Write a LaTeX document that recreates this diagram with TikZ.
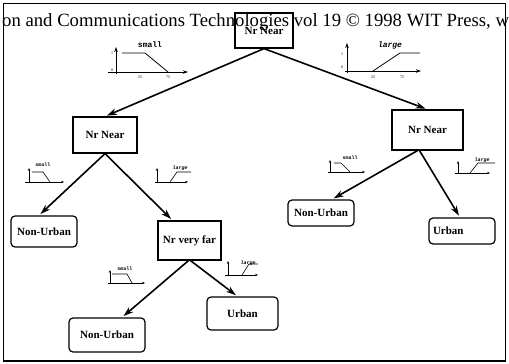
\documentclass[tikz,border=0pt]{standalone}
\usepackage{fontspec}
\setmainfont{Liberation Serif}
\newfontfamily\monofont{Liberation Mono}
\usetikzlibrary{arrows.meta}

\tikzset{
  decision/.style={draw, line width=1.2pt, inner sep=0pt,
    font=\fontsize{11}{13}\selectfont\bfseries},
  leaf/.style={draw, line width=1.2pt, rounded corners=4pt, inner sep=0pt,
    font=\fontsize{11}{13}\selectfont\bfseries},
  edge/.style={line width=1.6pt, -{Stealth[length=10pt,width=6.5pt]}, shorten >=2pt},
  axisbig/.style={line width=0.9pt, -{Stealth[length=5pt,width=3.5pt]}},
  axissmall/.style={line width=0.7pt, -{Stealth[length=3pt,width=2.4pt]}},
  mfcurve/.style={line width=0.8pt},
  biglabel/.style={font=\fontsize{8}{9}\monofont\bfseries, inner sep=0pt},
  smalllabel/.style={font=\fontsize{5}{6}\monofont\bfseries, inner sep=0pt},
  tick/.style={font=\fontsize{4}{5}\selectfont, inner sep=0pt},
}

\begin{document}
\begin{tikzpicture}[x=1pt, y=-1pt]
\useasboundingbox (0,0) rectangle (509,364);

% running head of the page
\node[anchor=base west, inner sep=0pt, font=\fontsize{18.7}{21}\selectfont] (head) at (2,26)
  {on and Communications Technologies vol 19 \textcopyright{} 1998 WIT Press, w};

% frame
\draw[line width=1pt] (3,3) rectangle (505,361);
\draw[line width=1.6pt] (3,361) -- (505,361);

% tree nodes
\node[decision, minimum width=58pt, minimum height=35pt] (root) at (264,30.5) {Nr Near};
\node[decision, minimum width=64pt, minimum height=36pt] (n1) at (105,135) {Nr Near};
\node[decision, minimum width=71pt, minimum height=40pt] (n2) at (427.5,130) {Nr Near};
\node[decision, minimum width=63pt, minimum height=39pt] (n3) at (189.5,240.5) {Nr very far};
\node[leaf, minimum width=66pt, minimum height=31pt] (l1) at (44,231.5) {Non-Urban};
\node[leaf, minimum width=66pt, minimum height=26pt] (l2) at (321,213) {Non-Urban};
\node[leaf, minimum height=26pt, text width=58pt, inner xsep=4pt, align=left] (l3) at (462,231) {Urban};
\node[leaf, minimum width=76pt, minimum height=34pt] (l4) at (107,335) {Non-Urban};
\node[leaf, minimum width=71pt, minimum height=33pt] (l5) at (242.5,313.5) {Urban};

% connectors
\draw[edge] (root.south) -- (n1.north);
\draw[edge] (root.south) -- (n2.north);
\draw[edge] (n1.south) -- ([xshift=-5pt]l1.north);
\draw[edge] (n1.south) -- ([xshift=-17pt]n3.north);
\draw[edge] ([xshift=-10pt]n2.south) -- ([xshift=11pt]l2.north);
\draw[edge] ([xshift=-8pt]n2.south) -- ([xshift=-2pt]l3.north);
\draw[edge] ([xshift=-1pt]n3.south) -- ([xshift=15pt]l4.north);
\draw[edge] ([xshift=1pt]n3.south) -- ([xshift=-5pt]l5.north);

% membership function "small", root branch
\begin{scope}[shift={(116,72)}]
  \draw[axisbig] (0,2) -- (0,-25);
  \draw[axisbig] (-8,0) -- (72,0);
  \draw[mfcurve] (6,-19) -- (29,-19) -- (52,0);
  \node[biglabel] (mfa) at (34,-27) {small};
  \node[tick] (mfa1) at (-4,-19) {1};
  \node[tick] (mfa0) at (-4,-2) {0};
  \node[tick] (mfa25) at (24,5) {25};
  \node[tick] (mfa75) at (52,5) {75};
\end{scope}

% membership function "large", root branch
\begin{scope}[shift={(347,71)}]
  \draw[axisbig] (0,2) -- (0,-28);
  \draw[axisbig] (-2,0) -- (74,0);
  \draw[mfcurve] (26,0) -- (53,-18) -- (73,-18);
  \node[biglabel, font=\fontsize{8}{9}\monofont\bfseries\itshape] (mfb) at (43,-26) {large};
  \node[tick] (mfb1) at (-5,-17) {1};
  \node[tick] (mfb0) at (-5,-4) {0};
  \node[tick] (mfb25) at (26,6) {25};
  \node[tick] (mfb75) at (55,6) {75};
\end{scope}

% small membership functions at the lower levels
\begin{scope}[shift={(29,182)}]
  \draw[axissmall] (0,1) -- (0,-14);
  \draw[axissmall] (-4,0) -- (35,0);
  \draw[mfcurve, line width=0.6pt] (3,-10) -- (14,-10) -- (21,0);
  \node[smalllabel] (mfc) at (14,-17) {small};
\end{scope}
\begin{scope}[shift={(157,182)}]
  \draw[axissmall] (0,1) -- (0,-14);
  \draw[axissmall] (-2,0) -- (31,0);
  \draw[mfcurve, line width=0.6pt] (13,0) -- (20,-10) -- (34,-10);
  \node[smalllabel, font=\fontsize{5}{6}\monofont\bfseries\itshape] (mfd) at (23,-14) {large};
\end{scope}
\begin{scope}[shift={(330,172)}]
  \draw[axissmall] (0,1) -- (0,-12);
  \draw[axissmall] (-2,0) -- (35,0);
  \draw[mfcurve, line width=0.6pt] (4,-9) -- (11,-9) -- (20,0);
  \node[smalllabel] (mfe) at (20,-14) {small};
\end{scope}
\begin{scope}[shift={(458,173)}]
  \draw[axissmall] (0,1) -- (0,-12);
  \draw[axissmall] (-3,0) -- (32,0);
  \draw[mfcurve, line width=0.6pt] (12,0) -- (20,-10) -- (37,-10);
  \node[smalllabel, font=\fontsize{5}{6}\monofont\bfseries\itshape] (mff) at (24,-13) {large};
\end{scope}
\begin{scope}[shift={(110,283)}]
  \draw[axissmall] (0,1) -- (0,-13);
  \draw[axissmall] (-2,0) -- (35,0);
  \draw[mfcurve, line width=0.6pt] (2,-9) -- (17,-9) -- (22,0);
  \node[smalllabel] (mfg) at (15,-14) {small};
\end{scope}
\begin{scope}[shift={(228,275)}]
  \draw[axissmall] (0,1) -- (0,-14);
  \draw[axissmall] (-3,0) -- (30,0);
  \draw[mfcurve, line width=0.6pt] (14,0) -- (21,-11) -- (30,-11);
  \node[smalllabel, font=\fontsize{5}{6}\monofont\bfseries\itshape] (mfh) at (20,-12) {large};
\end{scope}
\end{tikzpicture}
\end{document}
